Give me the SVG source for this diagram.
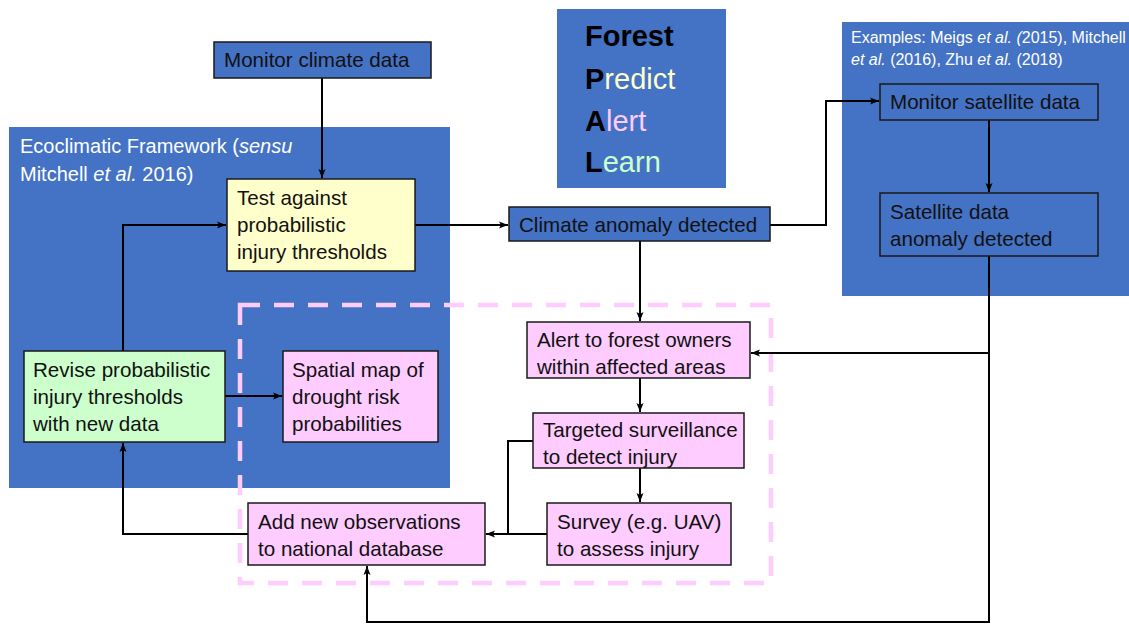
<svg xmlns="http://www.w3.org/2000/svg" width="1129" height="625" viewBox="0 0 1129 625">
<defs>
<marker id="ah" markerWidth="10" markerHeight="8" refX="9" refY="4" orient="auto" markerUnits="userSpaceOnUse">
<path d="M0,0.5 L9,4 L0,7.5 L2,4 Z" fill="#000"/>
</marker>
<style>
text{font-family:"Liberation Sans",Arial,sans-serif;font-size:20.6px;fill:#111}
.wt{fill:#fff;font-size:20px}
.ex{fill:#fff;font-size:16px}
.box{stroke:#1a1a1a;stroke-width:1.5}
.blue{fill:#4472C4}
.yel{fill:#FFFFCC}
.grn{fill:#CCFFCC}
.pnk{fill:#FFCCFF}
.con{fill:none;stroke:#000;stroke-width:2}
.big{font-size:29px;fill:#000}
</style>
</defs>
<rect width="1129" height="625" fill="#fff"/>

<g id="ecoclimatic-frame">
<rect x="9" y="127" width="441" height="361" class="blue"/>
<text class="wt" x="20" y="153">Ecoclimatic Framework (<tspan font-style="italic">sensu</tspan></text>
<text class="wt" x="20" y="181">Mitchell <tspan font-style="italic">et al.</tspan> 2016)</text>
</g>

<g id="examples-frame">
<rect x="842" y="22" width="287" height="274" class="blue"/>
<text class="ex" x="851" y="43">Examples: Meigs <tspan font-style="italic">et al. (</tspan>2015), Mitchell</text>
<text class="ex" x="851" y="65"><tspan font-style="italic">et al.</tspan> (2016), Zhu <tspan font-style="italic">et al.</tspan> (2018)</text>
</g>

<g id="fpal">
<rect x="557" y="9" width="169" height="179" class="blue"/>
<text class="big" x="585" y="46" font-weight="bold">Forest</text>
<text class="big" x="585" y="89"><tspan font-weight="bold">P</tspan><tspan fill="#FFFFCC">redict</tspan></text>
<text class="big" x="585" y="131"><tspan font-weight="bold">A</tspan><tspan fill="#FFCCFF">lert</tspan></text>
<text class="big" x="585" y="172"><tspan font-weight="bold">L</tspan><tspan fill="#CCFFCC">earn</tspan></text>
</g>

<g id="dashed-region">
<rect x="240" y="305" width="531" height="278" fill="none" stroke="#FFCCFF" stroke-width="4.5" stroke-dasharray="20 14"/>
</g>

<g id="connectors">
<line class="con" x1="322" y1="78" x2="322" y2="178" marker-end="url(#ah)"/>
<line class="con" x1="415" y1="225" x2="508" y2="225" marker-end="url(#ah)"/>
<polyline class="con" points="770,225 826,225 826,101 879,101" marker-end="url(#ah)"/>
<line class="con" x1="989" y1="120" x2="989" y2="192" marker-end="url(#ah)"/>
<polyline class="con" points="989,256 989,353 751,353" marker-end="url(#ah)"/>
<polyline class="con" points="989,353 989,622 367,622 367,566" marker-end="url(#ah)"/>
<line class="con" x1="640" y1="241" x2="640" y2="321" marker-end="url(#ah)"/>
<line class="con" x1="640" y1="378" x2="640" y2="412" marker-end="url(#ah)"/>
<line class="con" x1="640" y1="468" x2="640" y2="502" marker-end="url(#ah)"/>
<line class="con" x1="547" y1="534" x2="486" y2="534" marker-end="url(#ah)"/>
<polyline class="con" points="533,441 508,441 508,534"/>
<polyline class="con" points="248,534 123,534 123,443" marker-end="url(#ah)"/>
<polyline class="con" points="123,351 123,225 226,225" marker-end="url(#ah)"/>
<line class="con" x1="225" y1="396" x2="282" y2="396" marker-end="url(#ah)"/>
</g>

<g id="monitor-climate">
<rect x="214" y="42" width="217" height="36" class="box blue"/>
<text x="224" y="67">Monitor climate data</text>
</g>

<g id="test-thresholds">
<rect x="227" y="179" width="188" height="92" class="box yel"/>
<text x="237" y="205">Test against</text>
<text x="237" y="232">probabilistic</text>
<text x="237" y="259">injury thresholds</text>
</g>

<g id="climate-anomaly">
<rect x="509" y="207" width="261" height="34" class="box blue"/>
<text x="519" y="232">Climate anomaly detected</text>
</g>

<g id="monitor-satellite">
<rect x="880" y="84" width="218" height="36" class="box blue"/>
<text x="890" y="109">Monitor satellite data</text>
</g>

<g id="satellite-anomaly">
<rect x="880" y="193" width="218" height="63" class="box blue"/>
<text x="890" y="219">Satellite data</text>
<text x="890" y="246">anomaly detected</text>
</g>

<g id="revise-thresholds">
<rect x="24" y="351" width="201" height="91" class="box grn"/>
<text x="33" y="377">Revise probabilistic</text>
<text x="33" y="404">injury thresholds</text>
<text x="33" y="431">with new data</text>
</g>

<g id="spatial-map">
<rect x="283" y="351" width="155" height="91" class="box pnk"/>
<text x="292" y="377">Spatial map of</text>
<text x="292" y="404">drought risk</text>
<text x="292" y="431">probabilities</text>
</g>

<g id="alert-owners">
<rect x="527" y="322" width="223" height="56" class="box pnk"/>
<text x="537" y="347">Alert to forest owners</text>
<text x="537" y="374">within affected areas</text>
</g>

<g id="targeted-surveillance">
<rect x="533" y="413" width="211" height="55" class="box pnk"/>
<text x="543" y="437">Targeted surveillance</text>
<text x="543" y="464">to detect injury</text>
</g>

<g id="survey">
<rect x="547" y="503" width="184" height="62" class="box pnk"/>
<text x="557" y="529">Survey (e.g. UAV)</text>
<text x="557" y="556">to assess injury</text>
</g>

<g id="add-observations">
<rect x="248" y="503" width="237" height="62" class="box pnk"/>
<text x="258" y="529">Add new observations</text>
<text x="258" y="556">to national database</text>
</g>
</svg>
